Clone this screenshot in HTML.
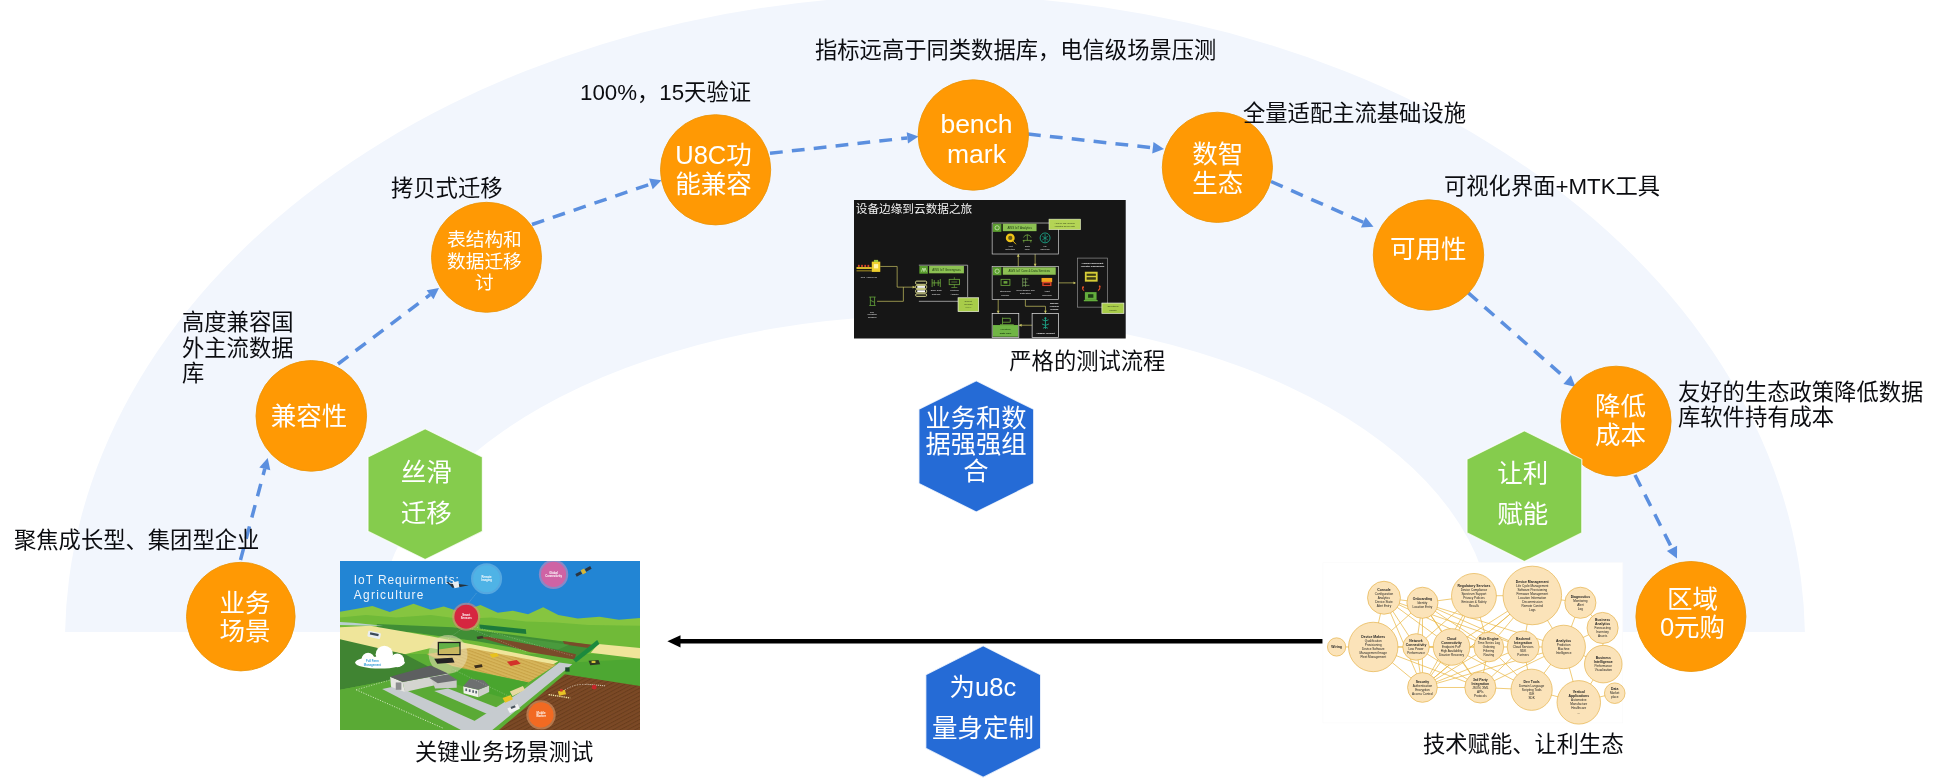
<!DOCTYPE html>
<html lang="zh-CN"><head><meta charset="utf-8"><title>U8C 数据库迁移路径</title>
<style>
html,body{margin:0;padding:0;background:#fff;}
body{width:1945px;height:782px;overflow:hidden;font-family:"Liberation Sans", "Noto Sans CJK SC", sans-serif;}
svg{display:block;font-family:"Liberation Sans", "Noto Sans CJK SC", sans-serif;will-change:transform;}
</style></head><body>
<svg width="1945" height="782" viewBox="0 0 1945 782">
<defs><filter id="soft" x="-2%" y="-2%" width="104%" height="104%"><feGaussianBlur stdDeviation="0.45"/></filter></defs>
<defs><clipPath id="bandclip"><rect x="0" y="0" width="1945" height="632"/></clipPath></defs>
<path clip-path="url(#bandclip)" fill-rule="evenodd" d="M65,641 A870,646 0 0 1 1805,641 Z M378,630 A557,315 0 0 1 1492,630 L1492,700 L378,700 Z" fill="#f2f6fd"/>
<line x1="240.5" y1="560.0" x2="264.8" y2="468.8" stroke="#5b8fdf" stroke-width="3.5" stroke-dasharray="12.8 9.2"/><polygon points="267.7,458.0 270.3,470.3 259.3,467.4" fill="#5b8fdf"/>
<line x1="338.0" y1="364.0" x2="430.1" y2="294.7" stroke="#5b8fdf" stroke-width="3.5" stroke-dasharray="12.8 9.2"/><polygon points="439.0,288.0 433.5,299.3 426.6,290.2" fill="#5b8fdf"/>
<line x1="532.0" y1="224.5" x2="650.9" y2="183.9" stroke="#5b8fdf" stroke-width="3.5" stroke-dasharray="12.8 9.2"/><polygon points="661.5,180.3 652.7,189.3 649.1,178.5" fill="#5b8fdf"/>
<line x1="770.0" y1="153.3" x2="907.4" y2="137.9" stroke="#5b8fdf" stroke-width="3.5" stroke-dasharray="12.8 9.2"/><polygon points="918.5,136.6 908.0,143.5 906.7,132.2" fill="#5b8fdf"/>
<line x1="1028.0" y1="134.0" x2="1152.9" y2="147.8" stroke="#5b8fdf" stroke-width="3.5" stroke-dasharray="12.8 9.2"/><polygon points="1164.0,149.0 1152.2,153.4 1153.5,142.1" fill="#5b8fdf"/>
<line x1="1271.0" y1="181.5" x2="1363.3" y2="222.3" stroke="#5b8fdf" stroke-width="3.5" stroke-dasharray="12.8 9.2"/><polygon points="1373.5,226.8 1361.0,227.5 1365.6,217.1" fill="#5b8fdf"/>
<line x1="1468.0" y1="292.6" x2="1567.2" y2="379.6" stroke="#5b8fdf" stroke-width="3.5" stroke-dasharray="12.8 9.2"/><polygon points="1575.6,387.0 1563.4,383.9 1570.9,375.3" fill="#5b8fdf"/>
<line x1="1635.0" y1="475.0" x2="1672.0" y2="548.4" stroke="#5b8fdf" stroke-width="3.5" stroke-dasharray="12.8 9.2"/><polygon points="1677.0,558.4 1666.9,551.0 1677.1,545.8" fill="#5b8fdf"/>
<circle cx="240.8" cy="616.6" r="54.300000000000004" fill="#ff9904" stroke="#ec960b" stroke-width="0.9"/>
<text x="244.9" y="602.6" font-size="25.5" fill="#fff" text-anchor="middle" dominant-baseline="central" >业务</text><text x="244.9" y="630.6" font-size="25.5" fill="#fff" text-anchor="middle" dominant-baseline="central" >场景</text>
<circle cx="311.3" cy="415.9" r="55.300000000000004" fill="#ff9904" stroke="#ec960b" stroke-width="0.9"/>
<text x="309" y="415.5" font-size="25.5" fill="#fff" text-anchor="middle" dominant-baseline="central" >兼容性</text>
<circle cx="486.5" cy="257.3" r="55.0" fill="#ff9904" stroke="#ec960b" stroke-width="0.9"/>
<text x="484.4" y="239.2" font-size="18.7" fill="#fff" text-anchor="middle" dominant-baseline="central" >表结构和</text><text x="484.4" y="261.0" font-size="18.7" fill="#fff" text-anchor="middle" dominant-baseline="central" >数据迁移</text><text x="484.4" y="282.8" font-size="18.7" fill="#fff" text-anchor="middle" dominant-baseline="central" >讨</text>
<circle cx="715.6" cy="169.8" r="55.1" fill="#ff9904" stroke="#ec960b" stroke-width="0.9"/>
<text x="713.5" y="155.2" font-size="25.5" fill="#fff" text-anchor="middle" dominant-baseline="central" >U8C功</text><text x="713.5" y="183.8" font-size="25.5" fill="#fff" text-anchor="middle" dominant-baseline="central" >能兼容</text>
<circle cx="973.3" cy="135" r="55.2" fill="#ff9904" stroke="#ec960b" stroke-width="0.9"/>
<text x="976.5" y="124.4" font-size="26.5" fill="#fff" text-anchor="middle" dominant-baseline="central" >bench</text><text x="976.5" y="153.8" font-size="26.5" fill="#fff" text-anchor="middle" dominant-baseline="central" >mark</text>
<circle cx="1217.4" cy="167.3" r="55.1" fill="#ff9904" stroke="#ec960b" stroke-width="0.9"/>
<text x="1217.8" y="153.5" font-size="25.5" fill="#fff" text-anchor="middle" dominant-baseline="central" >数智</text><text x="1217.8" y="182.5" font-size="25.5" fill="#fff" text-anchor="middle" dominant-baseline="central" >生态</text>
<circle cx="1428.5" cy="255" r="55.2" fill="#ff9904" stroke="#ec960b" stroke-width="0.9"/>
<text x="1428.2" y="248.6" font-size="25.5" fill="#fff" text-anchor="middle" dominant-baseline="central" >可用性</text>
<circle cx="1616.1" cy="421.2" r="55.0" fill="#ff9904" stroke="#ec960b" stroke-width="0.9"/>
<text x="1620.4" y="405.6" font-size="25.5" fill="#fff" text-anchor="middle" dominant-baseline="central" >降低</text><text x="1620.4" y="435.1" font-size="25.5" fill="#fff" text-anchor="middle" dominant-baseline="central" >成本</text>
<circle cx="1690.9" cy="616.5" r="55.0" fill="#ff9904" stroke="#ec960b" stroke-width="0.9"/>
<text x="1692.5" y="599.1" font-size="25.5" fill="#fff" text-anchor="middle" dominant-baseline="central" >区域</text><text x="1692.5" y="626.7" font-size="25.5" fill="#fff" text-anchor="middle" dominant-baseline="central" >0元购</text>
<polygon points="425.2,428.8 482.4,457.0 482.4,531.4 425.2,559.6 368.0,531.4 368.0,457.0" fill="#85cc4d" stroke="#ffffff" stroke-opacity=".8" stroke-width="1.2"/>
<text x="426.3" y="471.8" font-size="25.5" fill="#fff" text-anchor="middle" dominant-baseline="central" >丝滑</text><text x="426.3" y="512.5" font-size="25.5" fill="#fff" text-anchor="middle" dominant-baseline="central" >迁移</text>
<polygon points="1524.4,430.7 1581.8,459.3 1581.8,532.9 1524.4,561.5 1467.0,532.9 1467.0,459.3" fill="#85cc4d" stroke="#ffffff" stroke-opacity=".8" stroke-width="1.2"/>
<text x="1522.8" y="473.4" font-size="25.5" fill="#fff" text-anchor="middle" dominant-baseline="central" >让利</text><text x="1522.8" y="513.6" font-size="25.5" fill="#fff" text-anchor="middle" dominant-baseline="central" >赋能</text>
<polygon points="976.3,380.8 1033.7,409.3 1033.7,483.5 976.3,512.0 918.9,483.5 918.9,409.3" fill="#256bd6" stroke="#ffffff" stroke-opacity=".8" stroke-width="1.2"/>
<text x="976" y="418.1" font-size="25.3" fill="#fff" text-anchor="middle" dominant-baseline="central" >业务和数</text><text x="976" y="444.3" font-size="25.3" fill="#fff" text-anchor="middle" dominant-baseline="central" >据强强组</text><text x="976" y="470.5" font-size="25.3" fill="#fff" text-anchor="middle" dominant-baseline="central" >合</text>
<polygon points="983.2,645.8 1040.6,674.8 1040.6,748.4 983.2,777.4 925.8,748.4 925.8,674.8" fill="#256bd6" stroke="#ffffff" stroke-opacity=".8" stroke-width="1.2"/>
<text x="982.9" y="687.1" font-size="25.5" fill="#fff" text-anchor="middle" dominant-baseline="central" >为u8c</text><text x="982.9" y="727.9" font-size="25.5" fill="#fff" text-anchor="middle" dominant-baseline="central" >量身定制</text>
<line x1="678" y1="641.3" x2="1323" y2="641.3" stroke="#000" stroke-width="4.4"/>
<polygon points="667.4,641.3 680.5,635.2 680.5,647.4" fill="#000"/>
<text x="14" y="540" font-size="22.3" fill="#0b0c10" text-anchor="start" dominant-baseline="central">聚焦成长型、集团型企业</text>
<text x="182" y="322" font-size="22.3" fill="#0b0c10" text-anchor="start" dominant-baseline="central">高度兼容国</text>
<text x="182" y="348.1" font-size="22.3" fill="#0b0c10" text-anchor="start" dominant-baseline="central">外主流数据</text>
<text x="182" y="373.9" font-size="22.3" fill="#0b0c10" text-anchor="start" dominant-baseline="central">库</text>
<text x="391" y="188" font-size="22.3" fill="#0b0c10" text-anchor="start" dominant-baseline="central">拷贝式迁移</text>
<text x="580" y="92" font-size="22.3" fill="#0b0c10" text-anchor="start" dominant-baseline="central">100%，15天验证</text>
<text x="815" y="50" font-size="22.3" fill="#0b0c10" text-anchor="start" dominant-baseline="central">指标远高于同类数据库，电信级场景压测</text>
<text x="1243" y="113.8" font-size="22.3" fill="#0b0c10" text-anchor="start" dominant-baseline="central">全量适配主流基础设施</text>
<text x="1444" y="186" font-size="22.3" fill="#0b0c10" text-anchor="start" dominant-baseline="central">可视化界面+MTK工具</text>
<text x="1678" y="392" font-size="22.3" fill="#0b0c10" text-anchor="start" dominant-baseline="central">友好的生态政策降低数据</text>
<text x="1678" y="417.6" font-size="22.3" fill="#0b0c10" text-anchor="start" dominant-baseline="central">库软件持有成本</text>
<text x="1009.3" y="361.3" font-size="22.3" fill="#0b0c10" text-anchor="start" dominant-baseline="central">严格的测试流程</text>
<text x="415" y="752.4" font-size="22.3" fill="#0b0c10" text-anchor="start" dominant-baseline="central">关键业务场景测试</text>
<text x="1423" y="744" font-size="22.3" fill="#0b0c10" text-anchor="start" dominant-baseline="central">技术赋能、让利生态</text>
<g filter="url(#soft)"><g id="agri" transform="translate(340,561) scale(0.216138,0.216113)"><defs><clipPath id="agc"><rect x="0" y="0" width="1388" height="782"/></clipPath><pattern id="rows" width="14" height="14" patternUnits="userSpaceOnUse" patternTransform="rotate(20)"><rect width="14" height="14" fill="#d6b55a"/><rect width="14" height="5" fill="#c9a347"/></pattern><pattern id="brows" width="16" height="16" patternUnits="userSpaceOnUse" patternTransform="rotate(-28)"><rect width="16" height="16" fill="#7b4a26"/><rect width="16" height="5" fill="#6a3d1e"/></pattern></defs><g clip-path="url(#agc)"><rect width="1388" height="782" fill="#5bae35"/><rect width="1388" height="290" fill="#2485d4"/><polygon points="0,235 60,224 150,208 230,236 340,198 420,226 480,210 560,236 650,204 730,240 800,230 870,246 940,214 1010,250 1100,266 1200,258 1290,272 1388,264 1388,420 0,420" fill="#86c540"/><polygon points="0,262 120,250 260,262 420,250 560,268 700,262 860,280 1000,284 1150,296 1388,300 1388,430 0,430" fill="#6fba39"/><polygon points="170,292 520,306 640,322 1190,392 1085,452 640,372 330,330 170,318" fill="#3f8e36"/><polygon points="640,352 720,350 1092,432 1085,456 880,422" fill="#7a4c2a"/><polygon points="1030,370 1165,388 1150,402 1040,386" fill="#7a4c2a"/><polygon points="700,336 1060,388 1010,410 690,352" fill="#4a9a3c"/><polygon points="0,282 60,286 200,300 140,300 0,296" fill="#b9cfd0"/><polygon points="0,306 140,300 420,348 1010,464 930,512 700,452 420,402 300,432 0,372" fill="#efe59a"/><polygon points="1195,384 1388,402 1388,452 1160,424" fill="#efe59a"/><polygon points="400,430 600,402 1000,480 872,562 520,486" fill="url(#rows)"/><polygon points="0,362 300,432 430,500 250,548 0,596" fill="#3f8430"/><polygon points="1075,470 1388,452 1388,600 1040,524" fill="#4ea732"/><polygon points="1040,524 1388,578 1388,782 735,782" fill="url(#brows)"/><polygon points="0,596 250,548 430,500 560,520 820,600 560,782 0,782" fill="#5aaa36"/><polygon points="520,490 872,562 780,640 500,560" fill="#4aa52f"/><polygon points="1015,470 1075,478 705,782 555,782 830,610" fill="#c6cbcf"/><polygon points="195,592 262,578 650,752 590,782 560,782" fill="#c6cbcf"/><polygon points="436,602 500,590 740,684 690,712" fill="#c6cbcf"/><line x1="75" y1="596" x2="480" y2="775" stroke="#e9f3d8" stroke-width="4" stroke-dasharray="5 7"/><line x1="75" y1="596" x2="240" y2="548" stroke="#e9f3d8" stroke-width="3" stroke-dasharray="5 7"/><polygon points="645,294 860,316 862,338 646,314" fill="#1f7a3b"/><polygon points="1078,456 1190,366 1200,384 1092,470" fill="#1e8a3e"/><circle cx="500" cy="432" r="90" fill="#e9dfb4" fill-opacity=".55"/><rect x="452" y="374" width="106" height="62" fill="#1b1b1b"/><rect x="458" y="380" width="94" height="50" fill="#63b046"/><polygon points="458,410 552,396 552,430 458,430" fill="#c9b761"/><polygon points="436,452 520,448 530,470 450,476" fill="#222"/><polygon points="232,536 290,560 300,606 236,582" fill="#e6e6e2"/><polygon points="290,560 500,520 506,560 300,606" fill="#d4d5d0"/><polygon points="232,536 420,484 500,520 290,560" fill="#5d5f60"/><polygon points="420,540 500,528 540,552 540,586 440,590" fill="#c9cac6"/><polygon points="412,540 500,524 545,552 452,566" fill="#6c6e6f"/><rect x="258" y="562" width="26" height="34" fill="#8b8d8e"/><polygon points="570,580 640,596 640,630 572,612" fill="#f1f1ec"/><polygon points="640,596 690,576 690,606 640,630" fill="#cfd0cb"/><polygon points="570,580 600,546 664,552 690,576 640,596" fill="#6d6f70"/><g fill="#5c6a74"><rect x="580" y="590" width="8" height="12"/><rect x="596" y="594" width="8" height="12"/><rect x="612" y="598" width="8" height="12"/><rect x="626" y="601" width="8" height="12"/></g><g fill="#fff"><ellipse cx="185" cy="470" rx="115" ry="28"/><circle cx="130" cy="455" r="30"/><circle cx="205" cy="432" r="40"/><circle cx="265" cy="460" r="32"/></g><text x="150" y="468" font-size="13" fill="#2f9bd8" text-anchor="middle" font-weight="bold">Full Farm</text><text x="150" y="484" font-size="13" fill="#2f9bd8" text-anchor="middle" font-weight="bold">Management</text><g transform="rotate(12 158 342)"><rect x="128" y="328" width="60" height="28" rx="6" fill="#e9eef2"/><rect x="138" y="334" width="40" height="10" fill="#3b4a58"/></g><polygon points="692,432 724,426 736,440 704,448" fill="#e8c21f"/><polygon points="772,466 818,458 836,476 790,486" fill="#d3302a"/><polygon points="620,484 656,478 660,490 626,496" fill="#3a2d1e"/><polygon points="632,350 660,346 664,358 636,362" fill="#3a3a2a"/><polygon points="1150,462 1196,458 1204,478 1158,482" fill="#2d3a22"/><rect x="1164" y="462" width="18" height="10" fill="#d8c53a"/><polygon points="786,604 846,578 856,596 798,626" fill="#e8d9a0"/><polygon points="752,634 790,620 800,640 764,656" fill="#e9c320"/><polygon points="774,682 822,662 832,684 786,704" fill="#f1f1f1"/><rect x="790" y="672" width="22" height="10" fill="#48525c" transform="rotate(-22 800 677)"/><rect x="1042" y="492" width="20" height="20" fill="#1d4a2a"/><line x1="965" y1="618" x2="1065" y2="634" stroke="#f3e7a8" stroke-width="6" stroke-dasharray="6 4"/><polygon points="1008,604 1040,596 1046,616 1014,624" fill="#e7c325"/><rect x="1018" y="592" width="12" height="12" fill="#c8382c"/><line x1="1140" y1="570" x2="1230" y2="578" stroke="#e8ded2" stroke-width="4" stroke-dasharray="5 4"/><circle cx="1176" cy="584" r="11" fill="#c8262c"/><path d="M1040,596 Q1090,566 1140,572" fill="none" stroke="#efe6da" stroke-width="3" stroke-dasharray="6 6"/><g stroke="#e8f3e0" stroke-width="2" stroke-opacity=".6" fill="none" stroke-dasharray="6 6"><line x1="583" y1="300" x2="500" y2="360"/><line x1="600" y1="310" x2="860" y2="420"/><line x1="610" y1="300" x2="1080" y2="440"/><line x1="630" y1="150" x2="590" y2="200"/><line x1="520" y1="500" x2="790" y2="630"/></g><circle cx="678" cy="82" r="72" fill="#7cc4ea" fill-opacity=".55"/><circle cx="678" cy="82" r="62" fill="#4fb3e6"/><text x="678" y="79" font-size="13" fill="#fff" text-anchor="middle" font-weight="bold">Remote</text><text x="678" y="94" font-size="13" fill="#fff" text-anchor="middle" font-weight="bold">Imaging</text><circle cx="988" cy="62" r="68" fill="#d88cbc" fill-opacity=".55"/><circle cx="988" cy="62" r="58" fill="#cf63a4"/><text x="988" y="59" font-size="13" fill="#fff" text-anchor="middle" font-weight="bold">Global</text><text x="988" y="74" font-size="13" fill="#fff" text-anchor="middle" font-weight="bold">Connectivity</text><circle cx="584" cy="258" r="65" fill="#e58a7a" fill-opacity=".55"/><circle cx="584" cy="258" r="55" fill="#d6263f"/><text x="584" y="255" font-size="13" fill="#fff" text-anchor="middle" font-weight="bold">Smart</text><text x="584" y="270" font-size="13" fill="#fff" text-anchor="middle" font-weight="bold">Sensors</text><circle cx="930" cy="712" r="68" fill="#e9a070" fill-opacity=".55"/><circle cx="930" cy="712" r="58" fill="#f26b22"/><text x="930" y="709" font-size="13" fill="#fff" text-anchor="middle" font-weight="bold">Mobile</text><text x="930" y="724" font-size="13" fill="#fff" text-anchor="middle" font-weight="bold">Worker</text><polygon points="486,96 556,108 596,112 556,120 520,124 510,112" fill="#26303a"/><polygon points="520,100 548,92 552,122 530,126" fill="#e8ecef"/><g transform="rotate(-28 1125 50)"><rect x="1088" y="42" width="28" height="14" fill="#2b3540"/><rect x="1118" y="38" width="18" height="22" fill="#d9b632"/><rect x="1138" y="42" width="28" height="14" fill="#2b3540"/></g><text x="64" y="108" font-size="55" fill="#eef5fb" textLength="486" lengthAdjust="spacing">IoT Requirments:</text><text x="64" y="176" font-size="55" fill="#eef5fb" textLength="322" lengthAdjust="spacing">Agriculture</text></g></g></g>
<g filter="url(#soft)"><g id="dark" transform="translate(854,200) scale(0.17758,0.17711)"><rect width="1530" height="782" fill="#141414"/><text x="10" y="72" font-size="65" fill="#f2f2f2" textLength="656" lengthAdjust="spacingAndGlyphs">设备边缘到云数据之旅</text><g fill="none" stroke="#c9c463" stroke-width="4"><path d="M148,375 H243 V492 H345"/><path d="M130,572 H278 V492"/><path d="M925,305 V375"/><path d="M1020,305 V375"/><path d="M1152,468 H1245"/><path d="M812,562 V640"/><path d="M965,562 V600 H1078 V640"/><path d="M1003,707 H928"/></g><polygon points="345,492 330,484 330,500" fill="#c9c463"/><polygon points="1250,468 1236,460 1236,476" fill="#c9c463"/><polygon points="925,305 917,320 933,320" fill="#c9c463"/><polygon points="1020,375 1012,360 1028,360" fill="#c9c463"/><polygon points="928,707 944,699 944,715" fill="#c9c463"/><polygon points="812,640 804,626 820,626" fill="#c9c463"/><polygon points="1078,640 1070,626 1086,626" fill="#c9c463"/><rect x="778" y="130" width="374" height="175" fill="none" stroke="#cfcfcf" stroke-width="4"/><rect x="782" y="134" width="48" height="46" fill="#5a9e2f"/><circle cx="806" cy="157" r="12" fill="none" stroke="#d9efc4" stroke-width="4"/><rect x="838" y="134" width="190" height="42" fill="#8cc152"/><text x="933" y="162" font-size="17" fill="#1d3a12" text-anchor="middle" font-weight="normal">AWS IoT Analytics</text><rect x="1098" y="108" width="178" height="60" fill="#b4d455" stroke="#f0f4e0" stroke-width="3"/><text x="1187" y="134" font-size="12" fill="#33401a" text-anchor="middle" font-weight="normal">Analyze and visualize</text><text x="1187" y="152" font-size="12" fill="#33401a" text-anchor="middle" font-weight="normal">industrial device data</text><circle cx="880" cy="214" r="25" fill="#f0c419"/><circle cx="880" cy="214" r="12" fill="#6b5a12"/><line x1="896" y1="232" x2="912" y2="250" stroke="#f0c419" stroke-width="5"/><path d="M950,228 H1002 M976,196 V228 M956,240 V226 M996,240 V226" stroke="#7fb848" stroke-width="4" fill="none"/><path d="M955,212 A22,22 0 0 1 997,212" stroke="#7fb848" stroke-width="4" fill="none"/><circle cx="1076" cy="214" r="28" fill="none" stroke="#1fa98c" stroke-width="5"/><path d="M1076,192 V238 M1060,204 L1092,226 M1092,204 L1060,226" stroke="#1fa98c" stroke-width="4"/><text x="880" y="268" font-size="13" fill="#e8e8e8" text-anchor="middle" font-weight="normal">Alert</text><text x="880" y="284" font-size="13" fill="#e8e8e8" text-anchor="middle" font-weight="normal">Detection</text><text x="976" y="268" font-size="13" fill="#e8e8e8" text-anchor="middle" font-weight="normal">Data</text><text x="976" y="284" font-size="13" fill="#e8e8e8" text-anchor="middle" font-weight="normal">Lake</text><text x="1076" y="268" font-size="13" fill="#e8e8e8" text-anchor="middle" font-weight="normal">ML</text><text x="1076" y="284" font-size="13" fill="#e8e8e8" text-anchor="middle" font-weight="normal">Inference</text><rect x="778" y="375" width="374" height="187" fill="none" stroke="#cfcfcf" stroke-width="4"/><rect x="782" y="379" width="48" height="46" fill="#5a9e2f"/><circle cx="806" cy="402" r="12" fill="none" stroke="#d9efc4" stroke-width="4"/><rect x="838" y="380" width="298" height="42" fill="#8cc152"/><text x="987" y="408" font-size="17" fill="#1d3a12" text-anchor="middle" font-weight="normal">AWS IoT Core & Data Services</text><rect x="828" y="448" width="50" height="34" fill="none" stroke="#6aa33c" stroke-width="5"/><rect x="842" y="458" width="22" height="14" fill="#6aa33c"/><path d="M950,440 V490 M950,446 H982 M950,464 H976 M950,482 H988 M966,440 V490" stroke="#7fa860" stroke-width="4" fill="none"/><rect x="1056" y="440" width="60" height="24" fill="#f0a41c"/><rect x="1060" y="462" width="52" height="24" fill="#d8432a"/><rect x="1068" y="470" width="36" height="10" fill="#43160e"/><text x="852" y="522" font-size="13" fill="#e8e8e8" text-anchor="middle" font-weight="normal">Streaming</text><text x="852" y="540" font-size="13" fill="#e8e8e8" text-anchor="middle" font-weight="normal">Pipeline</text><text x="966" y="512" font-size="13" fill="#e8e8e8" text-anchor="middle" font-weight="normal">Rules Engine and</text><text x="966" y="530" font-size="13" fill="#e8e8e8" text-anchor="middle" font-weight="normal">Data Store</text><text x="1086" y="522" font-size="13" fill="#e8e8e8" text-anchor="middle" font-weight="normal">Asset</text><text x="1086" y="540" font-size="13" fill="#e8e8e8" text-anchor="middle" font-weight="normal">Modeling</text><path d="M365,368 H640 V548" fill="none" stroke="#cfcfcf" stroke-width="4"/><path d="M365,572 H588" fill="none" stroke="#cfcfcf" stroke-width="4"/><rect x="368" y="372" width="48" height="44" fill="#5a9e2f"/><path d="M380,404 L388,384 L396,404 M392,404 L400,384 L408,404" stroke="#d9efc4" stroke-width="4" fill="none"/><rect x="423" y="372" width="196" height="42" fill="#8cc152"/><text x="521" y="400" font-size="17" fill="#1d3a12" text-anchor="middle" font-weight="normal">AWS IoT Greengrass</text><g fill="none" stroke="#ecec9a" stroke-width="5"><rect x="347" y="458" width="62" height="18" rx="6"/><rect x="347" y="482" width="62" height="18" rx="6"/><rect x="347" y="506" width="62" height="18" rx="6"/><rect x="347" y="530" width="62" height="14" rx="6"/></g><rect x="356" y="486" width="44" height="10" fill="#fff"/><rect x="356" y="510" width="44" height="10" fill="#fff"/><path d="M440,446 V492 M486,446 V492 M440,468 H486 M452,452 V486 M474,452 V486" stroke="#6aa33c" stroke-width="5" fill="none"/><rect x="536" y="448" width="58" height="30" fill="none" stroke="#6aa33c" stroke-width="5"/><path d="M565,436 V448 M565,478 V494 M548,494 H582 M548,463 H582" stroke="#6aa33c" stroke-width="4"/><text x="463" y="516" font-size="13" fill="#e8e8e8" text-anchor="middle" font-weight="normal">Edge Data</text><text x="463" y="534" font-size="13" fill="#e8e8e8" text-anchor="middle" font-weight="normal">Gateway</text><text x="566" y="516" font-size="13" fill="#e8e8e8" text-anchor="middle" font-weight="normal">Protocol</text><text x="566" y="534" font-size="13" fill="#e8e8e8" text-anchor="middle" font-weight="normal">Adapter</text><rect x="586" y="552" width="116" height="78" fill="#a8cc4a" stroke="#f0f4e0" stroke-width="4"/><text x="644" y="574" font-size="13" fill="#33401a" text-anchor="middle" font-weight="normal">Collect,</text><text x="644" y="592" font-size="13" fill="#33401a" text-anchor="middle" font-weight="normal">process</text><text x="644" y="610" font-size="13" fill="#5d7a2a" text-anchor="middle" font-weight="normal">locally</text><g><rect x="100" y="348" width="48" height="58" fill="#efcf2e"/><rect x="112" y="338" width="24" height="12" fill="#9ac43c"/><rect x="112" y="362" width="24" height="24" fill="#fff3a8"/><path d="M14,384 H100" stroke="#efcf2e" stroke-width="10"/><path d="M14,400 H100" stroke="#efcf2e" stroke-width="4"/><g fill="#d8432a"><rect x="22" y="366" width="10" height="12"/><rect x="40" y="366" width="10" height="12"/><rect x="58" y="366" width="10" height="12"/><rect x="76" y="366" width="10" height="12"/></g></g><text x="84" y="440" font-size="13" fill="#e8e8e8" text-anchor="middle" font-weight="normal">PLC / Conveyor</text><path d="M86,548 H122 M92,548 V596 M116,548 V596 M86,596 H122 M92,566 L116,578" stroke="#5f9a3a" stroke-width="5" fill="none"/><text x="102" y="636" font-size="13" fill="#e8e8e8" text-anchor="middle" font-weight="normal">The</text><text x="102" y="652" font-size="13" fill="#e8e8e8" text-anchor="middle" font-weight="normal">Industrial</text><text x="102" y="668" font-size="13" fill="#e8e8e8" text-anchor="middle" font-weight="normal">Sensors</text><rect x="1258" y="328" width="170" height="277" fill="none" stroke="#8f8f8f" stroke-width="4"/><text x="1343" y="360" font-size="13" fill="#f2f2f2" text-anchor="middle" font-weight="bold">Amazon QuickSight</text><text x="1343" y="380" font-size="13" fill="#f2f2f2" text-anchor="middle" font-weight="bold">Operator Dashboards</text><rect x="1300" y="405" width="72" height="56" fill="#d6cd39"/><rect x="1310" y="416" width="52" height="12" fill="#3a3a12"/><rect x="1310" y="436" width="52" height="14" fill="#3a3a12"/><rect x="1300" y="520" width="66" height="44" fill="#63ad3c"/><rect x="1318" y="532" width="30" height="20" fill="#1d3a12"/><rect x="1294" y="564" width="78" height="8" fill="#63ad3c"/><path d="M1296,512 Q1280,500 1292,488 M1374,512 Q1392,498 1380,484" stroke="#e0502a" stroke-width="6" fill="none"/><circle cx="1290" cy="494" r="5" fill="#e0502a"/><circle cx="1384" cy="488" r="5" fill="#e0502a"/><rect x="1396" y="582" width="124" height="58" fill="#a8cc4a" stroke="#f0f4e0" stroke-width="4"/><text x="1458" y="606" font-size="12" fill="#33401a" text-anchor="middle" font-weight="normal">Operational</text><text x="1458" y="624" font-size="12" fill="#33401a" text-anchor="middle" font-weight="normal">insights</text><rect x="778" y="640" width="150" height="136" fill="none" stroke="#e8e8e8" stroke-width="4"/><rect x="782" y="706" width="142" height="66" fill="#6fb544"/><path d="M836,664 V704 M836,668 H880 V690 H836 M822,704 H900" stroke="#6aa33c" stroke-width="5" fill="none"/><text x="853" y="734" font-size="14" fill="#10300a" text-anchor="middle" font-weight="normal">Industrial</text><text x="853" y="756" font-size="14" fill="#10300a" text-anchor="middle" font-weight="bold">Data Lake</text><rect x="1003" y="640" width="149" height="136" fill="none" stroke="#e8e8e8" stroke-width="4"/><path d="M1078,664 V728 M1060,676 Q1078,690 1096,676 M1058,700 Q1078,716 1098,700 M1064,724 Q1078,712 1092,724" stroke="#1fa98c" stroke-width="5" fill="none"/><circle cx="1078" cy="668" r="6" fill="#1fa98c"/><text x="1078" y="756" font-size="13" fill="#f2f2f2" text-anchor="middle" font-weight="bold">Amazon Lookout</text><text x="1128" y="588" font-size="12" fill="#f2f2f2" text-anchor="middle" font-weight="bold">Machine</text><text x="1128" y="604" font-size="12" fill="#f2f2f2" text-anchor="middle" font-weight="bold">Learning</text><text x="1128" y="620" font-size="12" fill="#f2f2f2" text-anchor="middle" font-weight="bold">Training</text></g></g>
<g filter="url(#soft)"><g id="bub" transform="translate(1316,557) scale(0.228907)"><rect x="30" y="25" width="1310" height="700" fill="#ffffff"/><rect x="30" y="25" width="1310" height="700" fill="none" stroke="#fafafa" stroke-width="3"/><g stroke="#eab845" stroke-width="3.2"><line x1="90" y1="393" x2="250" y2="393"/><line x1="250" y1="393" x2="297" y2="178"/><line x1="250" y1="393" x2="465" y2="200"/><line x1="250" y1="393" x2="437" y2="393"/><line x1="250" y1="393" x2="465" y2="570"/><line x1="297" y1="178" x2="465" y2="200"/><line x1="297" y1="178" x2="437" y2="393"/><line x1="297" y1="178" x2="592" y2="393"/><line x1="297" y1="178" x2="465" y2="570"/><line x1="297" y1="178" x2="755" y2="393"/><line x1="465" y1="200" x2="690" y2="170"/><line x1="465" y1="200" x2="437" y2="393"/><line x1="465" y1="200" x2="592" y2="393"/><line x1="465" y1="200" x2="755" y2="393"/><line x1="465" y1="200" x2="905" y2="393"/><line x1="465" y1="200" x2="465" y2="570"/><line x1="465" y1="200" x2="718" y2="570"/><line x1="437" y1="393" x2="592" y2="393"/><line x1="437" y1="393" x2="465" y2="570"/><line x1="437" y1="393" x2="690" y2="170"/><line x1="437" y1="393" x2="718" y2="570"/><line x1="592" y1="393" x2="690" y2="170"/><line x1="592" y1="393" x2="755" y2="393"/><line x1="592" y1="393" x2="465" y2="570"/><line x1="592" y1="393" x2="718" y2="570"/><line x1="592" y1="393" x2="945" y2="168"/><line x1="592" y1="393" x2="942" y2="580"/><line x1="690" y1="170" x2="945" y2="168"/><line x1="690" y1="170" x2="755" y2="393"/><line x1="690" y1="170" x2="465" y2="570"/><line x1="755" y1="393" x2="905" y2="393"/><line x1="755" y1="393" x2="465" y2="570"/><line x1="755" y1="393" x2="718" y2="570"/><line x1="755" y1="393" x2="945" y2="168"/><line x1="755" y1="393" x2="942" y2="580"/><line x1="905" y1="393" x2="945" y2="168"/><line x1="905" y1="393" x2="1082" y2="393"/><line x1="905" y1="393" x2="718" y2="570"/><line x1="905" y1="393" x2="465" y2="570"/><line x1="905" y1="393" x2="942" y2="580"/><line x1="945" y1="168" x2="1082" y2="393"/><line x1="945" y1="168" x2="1155" y2="200"/><line x1="945" y1="168" x2="465" y2="570"/><line x1="1082" y1="393" x2="1155" y2="200"/><line x1="1082" y1="393" x2="1252" y2="310"/><line x1="1082" y1="393" x2="1255" y2="468"/><line x1="1082" y1="393" x2="1148" y2="635"/><line x1="1082" y1="393" x2="942" y2="580"/><line x1="1082" y1="393" x2="718" y2="570"/><line x1="1082" y1="393" x2="465" y2="570"/><line x1="1155" y1="200" x2="1252" y2="310"/><line x1="1252" y1="310" x2="1255" y2="468"/><line x1="1255" y1="468" x2="1148" y2="635"/><line x1="1305" y1="595" x2="1148" y2="635"/><line x1="1148" y1="635" x2="942" y2="580"/><line x1="942" y1="580" x2="718" y2="570"/><line x1="718" y1="570" x2="465" y2="570"/><line x1="250" y1="393" x2="592" y2="393"/><line x1="250" y1="393" x2="718" y2="570"/><line x1="297" y1="178" x2="905" y2="393"/><line x1="465" y1="200" x2="1082" y2="393"/><line x1="465" y1="570" x2="945" y2="168"/><line x1="437" y1="393" x2="755" y2="393"/></g><circle cx="90" cy="393" r="40" fill="#fbe3b9" stroke="#e4b248" stroke-width="3"/><text x="90" y="398.0" font-size="15" font-weight="bold" fill="#222" text-anchor="middle">Wiring</text><circle cx="250" cy="393" r="108" fill="#fbe3b9" stroke="#e4b248" stroke-width="3"/><text x="250" y="354.2" font-size="15" font-weight="bold" fill="#222" text-anchor="middle">Device Makers</text><text x="250" y="371.8" font-size="13.5" font-weight="normal" fill="#222" text-anchor="middle">Qualification</text><text x="250" y="389.2" font-size="13.5" font-weight="normal" fill="#222" text-anchor="middle">Provisioning</text><text x="250" y="406.8" font-size="13.5" font-weight="normal" fill="#222" text-anchor="middle">Device Software</text><text x="250" y="424.2" font-size="13.5" font-weight="normal" fill="#222" text-anchor="middle">Management Image</text><text x="250" y="441.8" font-size="13.5" font-weight="normal" fill="#222" text-anchor="middle">Fleet Management</text><circle cx="297" cy="178" r="72" fill="#fbe3b9" stroke="#e4b248" stroke-width="3"/><text x="297" y="148.0" font-size="15" font-weight="bold" fill="#222" text-anchor="middle">Console</text><text x="297" y="165.5" font-size="13.5" font-weight="normal" fill="#222" text-anchor="middle">Configuration</text><text x="297" y="183.0" font-size="13.5" font-weight="normal" fill="#222" text-anchor="middle">Analytics</text><text x="297" y="200.5" font-size="13.5" font-weight="normal" fill="#222" text-anchor="middle">Device State</text><text x="297" y="218.0" font-size="13.5" font-weight="normal" fill="#222" text-anchor="middle">Alert Entry</text><circle cx="465" cy="200" r="68" fill="#fbe3b9" stroke="#e4b248" stroke-width="3"/><text x="465" y="187.5" font-size="15" font-weight="bold" fill="#222" text-anchor="middle">Onboarding</text><text x="465" y="205.0" font-size="13.5" font-weight="normal" fill="#222" text-anchor="middle">Identity</text><text x="465" y="222.5" font-size="13.5" font-weight="normal" fill="#222" text-anchor="middle">Location Entry</text><circle cx="437" cy="393" r="58" fill="#fbe3b9" stroke="#e4b248" stroke-width="3"/><text x="437" y="371.8" font-size="15" font-weight="bold" fill="#222" text-anchor="middle">Network</text><text x="437" y="389.2" font-size="15" font-weight="bold" fill="#222" text-anchor="middle">Connectivity</text><text x="437" y="406.8" font-size="13.5" font-weight="normal" fill="#222" text-anchor="middle">Low Power</text><text x="437" y="424.2" font-size="13.5" font-weight="normal" fill="#222" text-anchor="middle">Performance</text><circle cx="592" cy="393" r="80" fill="#fbe3b9" stroke="#e4b248" stroke-width="3"/><text x="592" y="363.0" font-size="15" font-weight="bold" fill="#222" text-anchor="middle">Cloud</text><text x="592" y="380.5" font-size="15" font-weight="bold" fill="#222" text-anchor="middle">Connectivity</text><text x="592" y="398.0" font-size="13.5" font-weight="normal" fill="#222" text-anchor="middle">Endpoint PoP</text><text x="592" y="415.5" font-size="13.5" font-weight="normal" fill="#222" text-anchor="middle">High Availability</text><text x="592" y="433.0" font-size="13.5" font-weight="normal" fill="#222" text-anchor="middle">Disaster Recovery</text><circle cx="690" cy="170" r="98" fill="#fbe3b9" stroke="#e4b248" stroke-width="3"/><text x="690" y="131.2" font-size="15" font-weight="bold" fill="#222" text-anchor="middle">Regulatory Services</text><text x="690" y="148.8" font-size="13.5" font-weight="normal" fill="#222" text-anchor="middle">Device Compliance</text><text x="690" y="166.2" font-size="13.5" font-weight="normal" fill="#222" text-anchor="middle">Spectrum Support</text><text x="690" y="183.8" font-size="13.5" font-weight="normal" fill="#222" text-anchor="middle">Privacy Policies</text><text x="690" y="201.2" font-size="13.5" font-weight="normal" fill="#222" text-anchor="middle">Emission & Safety</text><text x="690" y="218.8" font-size="13.5" font-weight="normal" fill="#222" text-anchor="middle">Recalls</text><circle cx="755" cy="393" r="65" fill="#fbe3b9" stroke="#e4b248" stroke-width="3"/><text x="755" y="363.0" font-size="15" font-weight="bold" fill="#222" text-anchor="middle">Rule Engine</text><text x="755" y="380.5" font-size="13.5" font-weight="normal" fill="#222" text-anchor="middle">Time Series Log</text><text x="755" y="398.0" font-size="13.5" font-weight="normal" fill="#222" text-anchor="middle">Ordering</text><text x="755" y="415.5" font-size="13.5" font-weight="normal" fill="#222" text-anchor="middle">Filtering</text><text x="755" y="433.0" font-size="13.5" font-weight="normal" fill="#222" text-anchor="middle">Routing</text><circle cx="905" cy="393" r="70" fill="#fbe3b9" stroke="#e4b248" stroke-width="3"/><text x="905" y="363.0" font-size="15" font-weight="bold" fill="#222" text-anchor="middle">Backend</text><text x="905" y="380.5" font-size="15" font-weight="bold" fill="#222" text-anchor="middle">Integration</text><text x="905" y="398.0" font-size="13.5" font-weight="normal" fill="#222" text-anchor="middle">Cloud Services</text><text x="905" y="415.5" font-size="13.5" font-weight="normal" fill="#222" text-anchor="middle">SDK</text><text x="905" y="433.0" font-size="13.5" font-weight="normal" fill="#222" text-anchor="middle">Partners</text><circle cx="945" cy="168" r="128" fill="#fbe3b9" stroke="#e4b248" stroke-width="3"/><text x="945" y="111.8" font-size="15" font-weight="bold" fill="#222" text-anchor="middle">Device Management</text><text x="945" y="129.2" font-size="13.5" font-weight="normal" fill="#222" text-anchor="middle">Life Cycle Management</text><text x="945" y="146.8" font-size="13.5" font-weight="normal" fill="#222" text-anchor="middle">Software Provisioning</text><text x="945" y="164.2" font-size="13.5" font-weight="normal" fill="#222" text-anchor="middle">Firmware Management</text><text x="945" y="181.8" font-size="13.5" font-weight="normal" fill="#222" text-anchor="middle">Location Information</text><text x="945" y="199.2" font-size="13.5" font-weight="normal" fill="#222" text-anchor="middle">Decommission</text><text x="945" y="216.8" font-size="13.5" font-weight="normal" fill="#222" text-anchor="middle">Remote Control</text><text x="945" y="234.2" font-size="13.5" font-weight="normal" fill="#222" text-anchor="middle">Logs</text><circle cx="1082" cy="393" r="95" fill="#fbe3b9" stroke="#e4b248" stroke-width="3"/><text x="1082" y="371.8" font-size="15" font-weight="bold" fill="#222" text-anchor="middle">Analytics</text><text x="1082" y="389.2" font-size="13.5" font-weight="normal" fill="#222" text-anchor="middle">Prediction</text><text x="1082" y="406.8" font-size="13.5" font-weight="normal" fill="#222" text-anchor="middle">Machine</text><text x="1082" y="424.2" font-size="13.5" font-weight="normal" fill="#222" text-anchor="middle">Intelligence</text><circle cx="1155" cy="200" r="68" fill="#fbe3b9" stroke="#e4b248" stroke-width="3"/><text x="1155" y="178.8" font-size="15" font-weight="bold" fill="#222" text-anchor="middle">Diagnostics</text><text x="1155" y="196.2" font-size="13.5" font-weight="normal" fill="#222" text-anchor="middle">Monitoring</text><text x="1155" y="213.8" font-size="13.5" font-weight="normal" fill="#222" text-anchor="middle">Alert</text><text x="1155" y="231.2" font-size="13.5" font-weight="normal" fill="#222" text-anchor="middle">Log</text><circle cx="1252" cy="310" r="68" fill="#fbe3b9" stroke="#e4b248" stroke-width="3"/><text x="1252" y="280.0" font-size="15" font-weight="bold" fill="#222" text-anchor="middle">Business</text><text x="1252" y="297.5" font-size="15" font-weight="bold" fill="#222" text-anchor="middle">Analytics</text><text x="1252" y="315.0" font-size="13.5" font-weight="normal" fill="#222" text-anchor="middle">Forecasting</text><text x="1252" y="332.5" font-size="13.5" font-weight="normal" fill="#222" text-anchor="middle">Inventory</text><text x="1252" y="350.0" font-size="13.5" font-weight="normal" fill="#222" text-anchor="middle">Assets</text><circle cx="1255" cy="468" r="82" fill="#fbe3b9" stroke="#e4b248" stroke-width="3"/><text x="1255" y="446.8" font-size="15" font-weight="bold" fill="#222" text-anchor="middle">Business</text><text x="1255" y="464.2" font-size="15" font-weight="bold" fill="#222" text-anchor="middle">Intelligence</text><text x="1255" y="481.8" font-size="13.5" font-weight="normal" fill="#222" text-anchor="middle">Performance</text><text x="1255" y="499.2" font-size="13.5" font-weight="normal" fill="#222" text-anchor="middle">Visualization</text><circle cx="1305" cy="595" r="45" fill="#fbe3b9" stroke="#e4b248" stroke-width="3"/><text x="1305" y="582.5" font-size="15" font-weight="bold" fill="#222" text-anchor="middle">Data</text><text x="1305" y="600.0" font-size="13.5" font-weight="normal" fill="#222" text-anchor="middle">Market</text><text x="1305" y="617.5" font-size="13.5" font-weight="normal" fill="#222" text-anchor="middle">place</text><circle cx="1148" cy="635" r="95" fill="#fbe3b9" stroke="#e4b248" stroke-width="3"/><text x="1148" y="596.2" font-size="15" font-weight="bold" fill="#222" text-anchor="middle">Vertical</text><text x="1148" y="613.8" font-size="15" font-weight="bold" fill="#222" text-anchor="middle">Applications</text><text x="1148" y="631.2" font-size="13.5" font-weight="normal" fill="#222" text-anchor="middle">Automotive</text><text x="1148" y="648.8" font-size="13.5" font-weight="normal" fill="#222" text-anchor="middle">Manufacture</text><text x="1148" y="666.2" font-size="13.5" font-weight="normal" fill="#222" text-anchor="middle">Healthcare</text><text x="1148" y="683.8" font-size="13.5" font-weight="normal" fill="#222" text-anchor="middle">...</text><circle cx="942" cy="580" r="90" fill="#fbe3b9" stroke="#e4b248" stroke-width="3"/><text x="942" y="550.0" font-size="15" font-weight="bold" fill="#222" text-anchor="middle">Dev Tools</text><text x="942" y="567.5" font-size="13.5" font-weight="normal" fill="#222" text-anchor="middle">Domain Language</text><text x="942" y="585.0" font-size="13.5" font-weight="normal" fill="#222" text-anchor="middle">Scripting Tools</text><text x="942" y="602.5" font-size="13.5" font-weight="normal" fill="#222" text-anchor="middle">IDE</text><text x="942" y="620.0" font-size="13.5" font-weight="normal" fill="#222" text-anchor="middle">SDK</text><circle cx="718" cy="570" r="68" fill="#fbe3b9" stroke="#e4b248" stroke-width="3"/><text x="718" y="540.0" font-size="15" font-weight="bold" fill="#222" text-anchor="middle">3rd Party</text><text x="718" y="557.5" font-size="15" font-weight="bold" fill="#222" text-anchor="middle">Integration</text><text x="718" y="575.0" font-size="13.5" font-weight="normal" fill="#222" text-anchor="middle">JSON, XML</text><text x="718" y="592.5" font-size="13.5" font-weight="normal" fill="#222" text-anchor="middle">APIs</text><text x="718" y="610.0" font-size="13.5" font-weight="normal" fill="#222" text-anchor="middle">Protocols</text><circle cx="465" cy="570" r="65" fill="#fbe3b9" stroke="#e4b248" stroke-width="3"/><text x="465" y="548.8" font-size="15" font-weight="bold" fill="#222" text-anchor="middle">Security</text><text x="465" y="566.2" font-size="13.5" font-weight="normal" fill="#222" text-anchor="middle">Authentication</text><text x="465" y="583.8" font-size="13.5" font-weight="normal" fill="#222" text-anchor="middle">Encryption</text><text x="465" y="601.2" font-size="13.5" font-weight="normal" fill="#222" text-anchor="middle">Access Control</text></g></g>
</svg>
</body></html>
